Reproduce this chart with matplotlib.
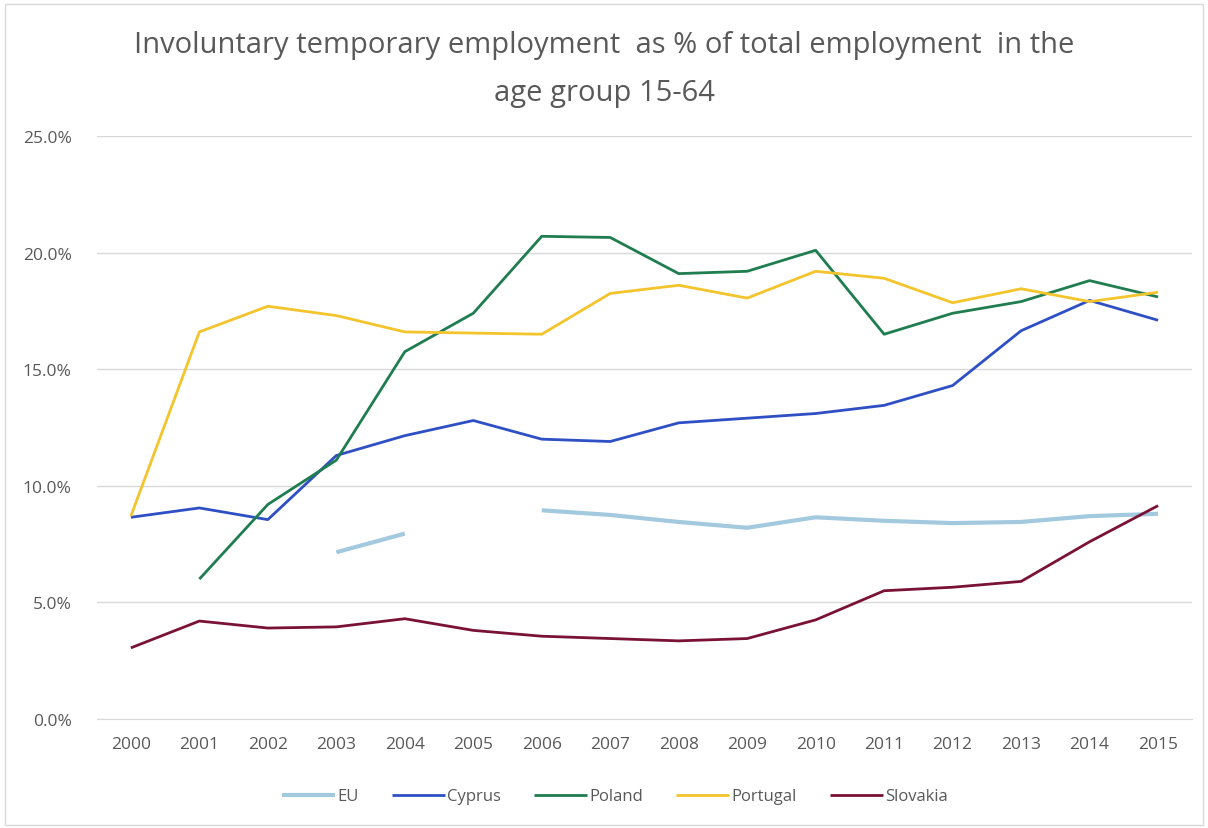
import numpy as np
import matplotlib
matplotlib.use("Agg")
import matplotlib.pyplot as plt
from matplotlib.patches import Rectangle

years = [str(y) for y in range(2000, 2016)]
nan = np.nan
eu = [nan, nan, nan, 7.15, 7.95, nan, 8.95, 8.75, 8.45, 8.2, 8.65, 8.5, 8.4, 8.45, 8.7, 8.8]
cyprus = [8.65, 9.05, 8.55, 11.3, 12.15, 12.8, 12.0, 11.9, 12.7, 12.9, 13.1, 13.45, 14.3, 16.65, 17.95, 17.1]
poland = [nan, 6.0, 9.2, 11.1, 15.75, 17.4, 20.7, 20.65, 19.1, 19.2, 20.1, 16.5, 17.4, 17.9, 18.8, 18.1]
portugal = [8.7, 16.6, 17.7, 17.3, 16.6, 16.55, 16.5, 18.25, 18.6, 18.05, 19.2, 18.9, 17.85, 18.45, 17.9, 18.3]
slovakia = [3.05, 4.2, 3.9, 3.95, 4.3, 3.8, 3.55, 3.45, 3.35, 3.45, 4.25, 5.5, 5.65, 5.9, 7.6, 9.15]
yticks = [0, 5, 10, 15, 20, 25]

series = [
    ("EU", eu, "#a3c9df", 3.0),
    ("Cyprus", cyprus, "#2f4fc4", 2.0),
    ("Poland", poland, "#1f7d4f", 2.0),
    ("Portugal", portugal, "#f3c42c", 2.0),
    ("Slovakia", slovakia, "#7a1236", 2.0),
]

plt.rcParams['font.family'] = ['Open Sans', 'DejaVu Sans']
fig = plt.figure(figsize=(12.08, 8.29), dpi=100)
ax = fig.add_axes([0.080, 0.1315, 0.907, 0.7032])

x = np.arange(len(years))
for name, vals, col, lw in series:
    ax.plot(x, vals, color=col, lw=lw, label=name, solid_capstyle='butt')

ax.set_xlim(-0.5, len(years) - 0.5)
ax.set_ylim(0, 25)
ax.set_yticks(yticks)
ax.set_yticklabels([f"{v:.1f}%" for v in yticks])
ax.set_xticks(x)
ax.set_xticklabels(years)
ax.yaxis.grid(True, color="#d9d9d9", lw=1)
ax.set_axisbelow(True)
for s in ['top', 'right', 'left']:
    ax.spines[s].set_visible(False)
ax.spines['bottom'].set_color("#d9d9d9")
ax.tick_params(axis='both', length=0, colors="#595959", labelsize=12.5)
ax.tick_params(axis='x', pad=12)
ax.tick_params(axis='y', pad=18)

fig.text(0.5, 0.945, "Involuntary temporary employment  as % of total employment  in the",
         ha='center', va='center', fontsize=21, color="#595959")
fig.text(0.5, 0.887, "age group 15-64", ha='center', va='center', fontsize=21, color="#595959")

leg = fig.legend(loc='center', bbox_to_anchor=(0.509, 0.038), ncol=5, frameon=False,
                 fontsize=12, handlelength=3.2, handletextpad=0.1, columnspacing=2.0)
for t in leg.get_texts():
    t.set_color("#595959")

fig.patches.append(Rectangle((0.004, 0.004), 0.992, 0.990, transform=fig.transFigure,
                             fill=False, edgecolor="#d9d9d9", lw=1))
fig.savefig("out.png", dpi=100, facecolor="white")
